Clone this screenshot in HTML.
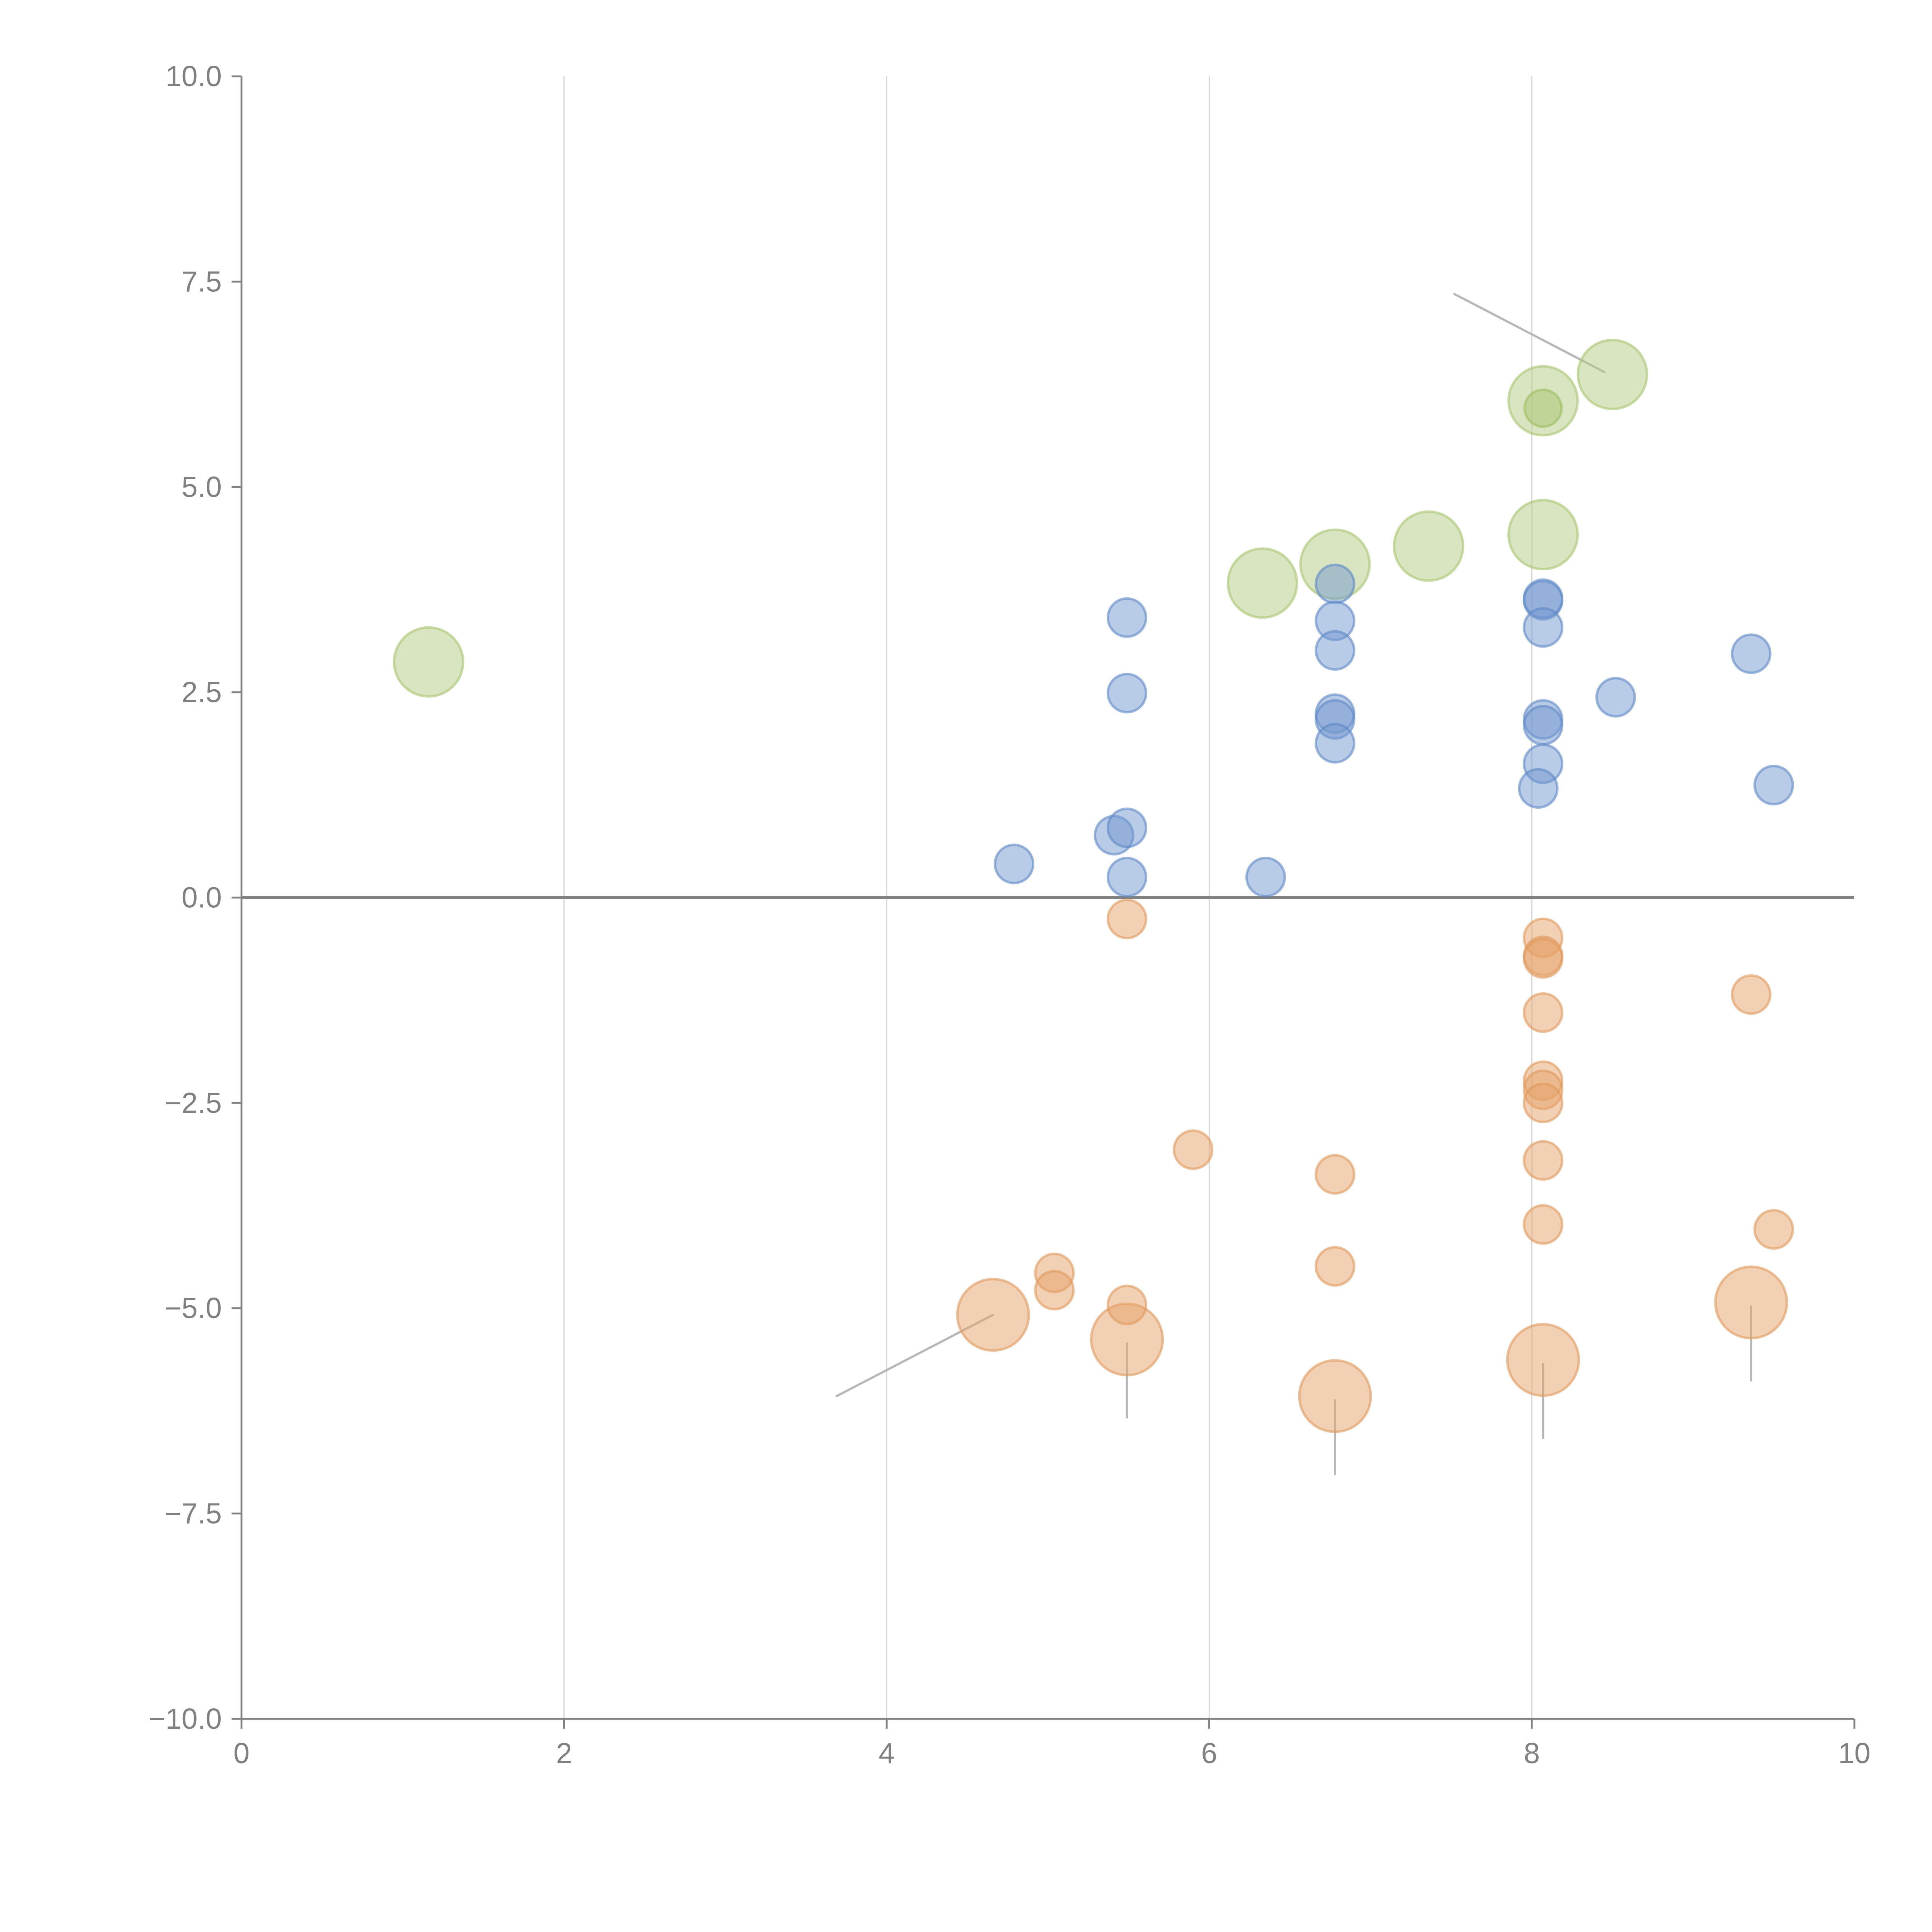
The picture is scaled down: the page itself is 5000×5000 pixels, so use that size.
<!DOCTYPE html>
<html><head><meta charset="utf-8"><style>
html,body{margin:0;padding:0;background:#fff;}
svg{display:block;}
text{font-family:"Liberation Sans",sans-serif;fill:#808080;}
</style></head><body>
<svg id="chart" width="5000" height="5000" viewBox="0 0 1568 1568" xmlns="http://www.w3.org/2000/svg">
<g id="grid"></g>
<g id="axes"></g>
<g id="ann"></g>
<g id="marks"></g>
</svg>
<script>
const xTicks=[0,2,4,6,8,10];
const yTicks=[-10,-7.5,-5,-2.5,0,2.5,5,7.5,10];
const yTickLabels=["\u221210.0","\u22127.5","\u22125.0","\u22122.5","0.0","2.5","5.0","7.5","10.0"];
const blueX=[4.79,5.41,5.49,5.49,5.49,5.49,6.35,6.78,6.78,6.78,6.78,6.78,6.78,8.07,8.07,8.07,8.07,8.07,8.07,8.04,8.52,9.36,9.50];
const blueY=[0.41,0.76,0.85,0.25,2.49,3.41,0.25,3.82,3.37,3.01,2.24,2.17,1.88,3.62,3.64,3.29,2.17,2.10,1.63,1.33,2.44,2.97,1.37];
const orangeX=[5.49,5.90,5.04,5.04,5.49,6.78,6.78,8.07,8.07,8.07,8.07,8.07,8.07,8.07,8.07,8.07,9.36,9.50];
const orangeY=[-0.26,-3.07,-4.57,-4.78,-4.96,-3.37,-4.49,-0.49,-0.71,-0.74,-1.40,-2.23,-2.34,-2.50,-3.20,-3.98,-1.18,-4.04];
const orangeBigX=[4.66,5.49,6.78,8.07,9.36];
const orangeBigY=[-5.08,-5.38,-6.07,-5.63,-4.93];
const greenBigX=[1.16,6.33,6.78,7.36,8.07,8.07,8.50];
const greenBigY=[2.87,3.83,4.06,4.28,4.42,6.05,6.37];
const greenSmallX=[8.07];
const greenSmallY=[5.96];
const annX1=[4.66,5.49,6.78,8.07,9.36,8.45];
const annY1=[-5.08,-5.43,-6.12,-5.68,-4.98,6.40];
const annX2=[3.69,5.49,6.78,8.07,9.36,7.52];
const annY2=[-6.07,-6.33,-7.02,-6.58,-5.88,7.35];

const X0=196,X1=1505,Y0=1395,Y1=62;
const sx=v=>X0+(v-0)/(10-0)*(X1-X0);
const sy=v=>Y0-(v+10)/20*(Y0-Y1);
const NS="http://www.w3.org/2000/svg";
function mk(tag,attrs,parent){const e=document.createElementNS(NS,tag);for(const k in attrs)e.setAttribute(k,attrs[k]);parent.appendChild(e);return e;}
const grid=document.getElementById('grid'),axes=document.getElementById('axes'),ann=document.getElementById('ann'),marks=document.getElementById('marks');

xTicks.forEach(t=>{
  if(t>0&&t<10){const l=mk('line',{x1:sx(t),x2:sx(t),y1:Y1,y2:Y0,stroke:'#d8d8d8','stroke-width':1},grid);
  
  }
  const tk=mk('line',{x1:sx(t),x2:sx(t),y1:Y0,y2:Y0+8,stroke:'#808080','stroke-width':1.5},axes);
  
  
  const tx=mk('text',{x:sx(t),y:Y0+36,'text-anchor':'middle','font-size':23.5},axes);
  tx.textContent=t;
  
  
});
yTicks.forEach((t,i)=>{
  const tk=mk('line',{x1:X0-8,x2:X0,y1:sy(t),y2:sy(t),stroke:'#808080','stroke-width':1.5},axes);
  
  
  const tx=mk('text',{x:X0-16,y:sy(t)+8,'text-anchor':'end','font-size':23.5},axes);
  tx.textContent=yTickLabels[i];
  
  
});
const ya=mk('line',{x1:X0,x2:X0,y1:Y1,y2:Y0,stroke:'#808080','stroke-width':1.5},axes);


const xa=mk('line',{x1:X0,x2:X1,y1:Y0,y2:Y0,stroke:'#808080','stroke-width':1.5},axes);


const zl=mk('line',{x1:X0,x2:X1,y1:sy(0),y2:sy(0),stroke:'#808080','stroke-width':2.5},axes);



annX1.forEach((v,i)=>{
  const l=mk('line',{x1:sx(v),y1:sy(annY1[i]),x2:sx(annX2[i]),y2:sy(annY2[i]),stroke:'#b8b8b8','stroke-width':1.8,'stroke-linecap':'round'},ann);
  
  
});

function series(xs,ys,r,fill,stroke,name){
  xs.forEach((v,i)=>{
    const c=mk('circle',{cx:sx(v),cy:sy(ys[i]),r:r,fill:fill,'fill-opacity':0.5,stroke:stroke,'stroke-opacity':0.6,'stroke-width':2},marks);
    
    
  });
}
series(greenBigX,greenBigY,28,'#b3cb83','#a8c46f','green-bubble');
series(greenSmallX,greenSmallY,15,'#a8c46f','#9dbd60','green-point');
series(orangeBigX,orangeBigY,29,'#e6a26a','#e09a5c','orange-bubble');
series(blueX,blueY,15.5,'#7298cf','#5f89c6','blue-point');
series(orangeX,orangeY,15.5,'#e6a26a','#e09a5c','orange-point');
</script>
</body></html>
